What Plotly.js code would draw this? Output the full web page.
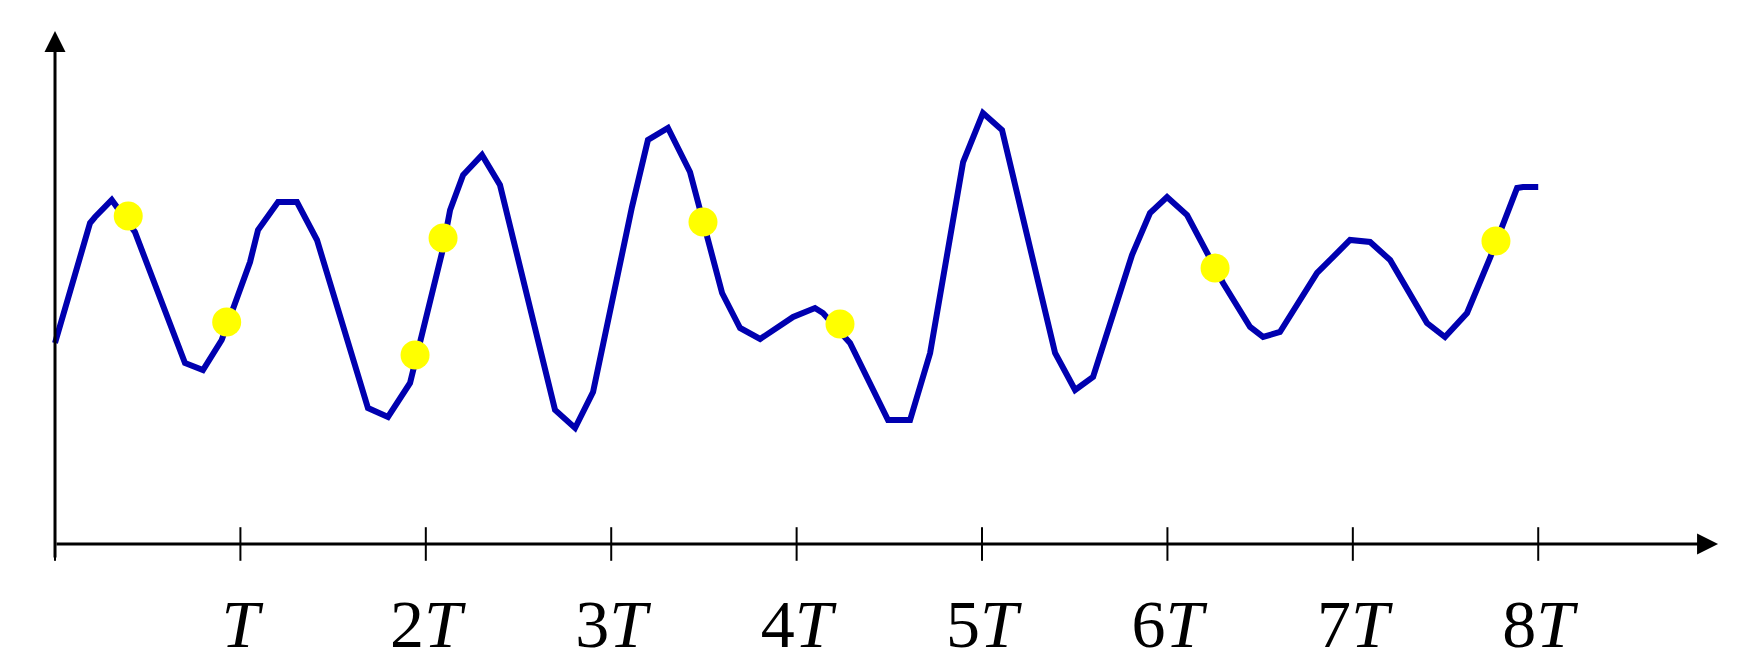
<!DOCTYPE html>
<html>
<head>
<meta charset="utf-8">
<script src="https://cdn.plot.ly/plotly-3.0.1.min.js"></script>
<style>
  html, body { margin: 0; padding: 0; background: #fff; }
</style>
</head>
<body>
<div id="wavePlot" style="width:1752px;height:662px;"></div>
<script>
/*
! Signal (time in periods T, amplitude in arbitrary units)
*/
var waveT = [0, 0.189, 0.216, 0.306, 0.431, 0.602, 0.701, 0.798, 0.899, 1.052,
  1.095, 1.203, 1.305, 1.413, 1.688, 1.796, 1.915, 2.087, 2.131, 2.201,
  2.303, 2.400, 2.697, 2.805, 2.902, 3.112, 3.198, 3.306, 3.425, 3.598,
  3.695, 3.803, 3.981, 4.099, 4.142, 4.288, 4.493, 4.612, 4.720, 4.898,
  5.005, 5.108, 5.367, 5.394, 5.502, 5.599, 5.809, 5.906, 5.998, 6.106,
  6.300, 6.446, 6.516, 6.607, 6.807, 6.985, 7.093, 7.201, 7.400, 7.497,
  7.616, 7.740, 7.886, 7.918, 8.0];
var waveV = [201, 321, 327, 344, 312, 227, 181, 174, 204, 282,
  314, 342, 342, 304, 136, 127, 161, 291, 334, 369,
  389, 359, 134, 116, 152, 337, 404, 416, 372, 251,
  216, 205, 227, 236, 231, 201, 124, 124, 191, 382,
  431, 414, 207, 191, 154, 167, 289, 331, 347, 329,
  261, 217, 207, 212, 271, 304, 302, 284, 221, 207,
  231, 286, 356, 357, 357];

/*
! Sampled points (yellow)
*/
var sampleT = [0.395, 0.926, 1.942, 2.093, 3.495, 4.234, 6.257, 7.772];
var sampleV = [328, 222, 189, 306, 322, 220, 276, 303];

/*
! Axis ticks
*/
var tickVals = [1, 2, 3, 4, 5, 6, 7, 8];
var tickText = ['<i>T</i>', '2<i>T</i>', '3<i>T</i>', '4<i>T</i>', '5<i>T</i>', '6<i>T</i>', '7<i>T</i>', '8<i>T</i>'];
var tickMarks = [0, 1, 2, 3, 4, 5, 6, 7, 8];

var traces = [
  {
    x: tickMarks,
    y: tickMarks.map(function () { return 0; }),
    mode: 'markers',
    marker: { symbol: 'line-ns', size: 24, line: { color: '#000', width: 2 } },
    cliponaxis: false,
    hoverinfo: 'skip'
  },
  {
    x: waveT,
    y: waveV,
    mode: 'lines',
    line: { color: '#0000b0', width: 6 }
  },
  {
    x: sampleT,
    y: sampleV,
    mode: 'markers',
    marker: { color: '#ffff00', size: 29 }
  }
];

var layout = {
  width: 1752,
  height: 662,
  margin: { l: 0, r: 0, t: 0, b: 0 },
  showlegend: false,
  paper_bgcolor: '#fff',
  plot_bgcolor: '#fff',
  xaxis: {
    range: [-0.2967, 9.153],
    anchor: 'free',
    position: 0.178,
    showgrid: false,
    zeroline: false,
    showline: false,
    ticks: '',
    tickvals: tickVals,
    ticktext: tickText,
    ticklabelstandoff: 34,
    tickfont: { family: 'Liberation Serif, Times New Roman, serif', size: 68, color: '#000' }
  },
  yaxis: {
    range: [-118, 544],
    visible: false
  },
  annotations: [
    {
      x: 8.97, y: 0, ax: 0, ay: 0, xref: 'x', yref: 'y', axref: 'x', ayref: 'y',
      showarrow: true, arrowhead: 2, arrowsize: 1.4, arrowwidth: 3, arrowcolor: '#000', text: ''
    },
    {
      x: 0, y: 513, ax: 0, ay: -15, xref: 'x', yref: 'y', axref: 'x', ayref: 'y',
      showarrow: true, arrowhead: 2, arrowsize: 1.4, arrowwidth: 3, arrowcolor: '#000', text: ''
    }
  ]
};

Plotly.newPlot('wavePlot', traces, layout, { displayModeBar: false, staticPlot: true });
</script>
</body>
</html>
